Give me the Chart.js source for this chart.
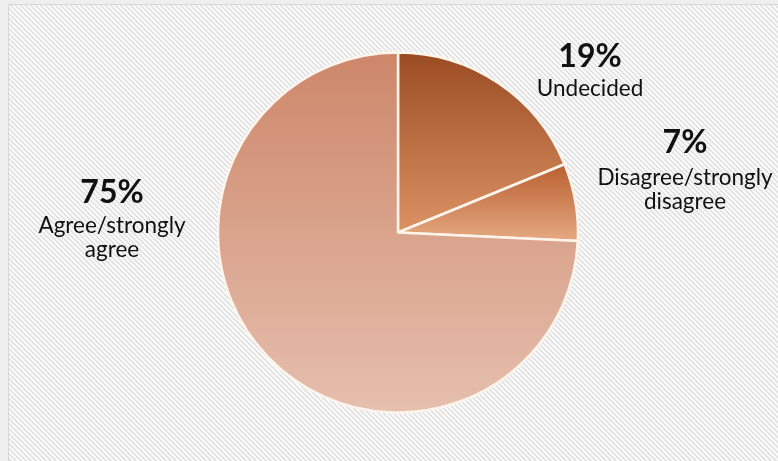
<!DOCTYPE html>
<html>
<head>
<meta charset="utf-8">
<script src="https://cdn.jsdelivr.net/npm/chart.js@4/dist/chart.umd.min.js"></script>
<style>
  html, body { margin: 0; padding: 0; background: #efefef; }
  #chart { display: block; }
</style>
</head>
<body>
<canvas id="chart" width="778" height="461"></canvas>
<script>
// Survey answers, clockwise from 12 o'clock
const categories = [
  ["Undecided"],
  ["Disagree/strongly", "disagree"],
  ["Agree/strongly", "agree"]
];
const shares = [19, 7, 75];

// Vertical gradient per slice: [top colour, bottom colour]
const sliceShades = [
  ["#9a4b22", "#dc9364"],
  ["#b95f31", "#e6a981"],
  ["#cd876a", "#e6bfae"]
];

// Label placement: centre x, baseline of the percentage, baselines of the text lines
const labelSpots = [
  { x: 590, pct: 67,  lines: [96] },
  { x: 685, pct: 153, lines: [185, 209] },
  { x: 112, pct: 203, lines: [233, 257] }
];

const FONT = "Lato, 'Open Sans', sans-serif";

// Grey card with fine diagonal hatching behind the pie
const hatchedPanel = {
  id: 'hatchedPanel',
  beforeDraw(chart) {
    const ctx = chart.ctx;
    const tile = document.createElement('canvas');
    tile.width = 5; tile.height = 5;
    const t = tile.getContext('2d');
    const shade = ['#dcdcdc', '#e8e8e8', '#f9f9f9', '#fbfbfb', '#f3f3f3'];
    for (let y = 0; y < 5; y++) {
      for (let x = 0; x < 5; x++) {
        t.fillStyle = shade[((x - y) % 5 + 5) % 5];
        t.fillRect(x, y, 1, 1);
      }
    }
    ctx.save();
    ctx.fillStyle = '#efefef';
    ctx.fillRect(0, 0, chart.width, chart.height);
    ctx.fillStyle = ctx.createPattern(tile, 'repeat');
    ctx.fillRect(8, 4, chart.width - 8, chart.height - 4);
    ctx.strokeStyle = '#d6d6d6';
    ctx.lineWidth = 1;
    ctx.beginPath();
    ctx.moveTo(8.5, chart.height);
    ctx.lineTo(8.5, 4.5);
    ctx.lineTo(chart.width, 4.5);
    ctx.stroke();
    ctx.restore();
  }
};

// Paints each arc with a top-to-bottom gradient spanning its own height
const sliceGradients = {
  id: 'sliceGradients',
  beforeDatasetsDraw(chart) {
    const ctx = chart.ctx;
    chart.getDatasetMeta(0).data.forEach((arc, i) => {
      const p = arc.getProps(['x', 'y', 'startAngle', 'endAngle', 'outerRadius']);
      const ys = [p.y, p.y + p.outerRadius * Math.sin(p.startAngle), p.y + p.outerRadius * Math.sin(p.endAngle)];
      for (let k = -2; k <= 6; k++) {
        const a = k * Math.PI / 2;
        if (a >= p.startAngle && a <= p.endAngle) ys.push(p.y + p.outerRadius * Math.sin(a));
      }
      const top = Math.min(...ys), bottom = Math.max(...ys);
      const g = ctx.createLinearGradient(0, top, 0, bottom);
      g.addColorStop(0, sliceShades[i][0]);
      g.addColorStop(1, sliceShades[i][1]);
      arc.options.backgroundColor = g;
    });
  }
};

// Percentage and category text beside each slice
const sliceLabels = {
  id: 'sliceLabels',
  afterDatasetsDraw(chart) {
    const ctx = chart.ctx;
    ctx.save();
    ctx.fillStyle = '#111111';
    ctx.textAlign = 'center';
    ctx.textBaseline = 'alphabetic';
    shares.forEach((v, i) => {
      const spot = labelSpots[i];
      ctx.font = `bold 32px ${FONT}`;
      ctx.fillText(v + '%', spot.x, spot.pct);
      ctx.font = `22.5px ${FONT}`;
      categories[i].forEach((line, j) => ctx.fillText(line, spot.x, spot.lines[j]));
    });
    ctx.restore();
  }
};

new Chart(document.getElementById('chart'), {
  type: 'pie',
  data: {
    labels: categories.map(c => c.join(' ')),
    datasets: [{
      data: shares,
      backgroundColor: sliceShades.map(s => s[1]),
      borderColor: '#fdf4ec',
      borderWidth: 2.5,
      radius: 180
    }]
  },
  options: {
    responsive: false,
    animation: false,
    layout: { padding: { top: 52, bottom: 48, left: 18, right: 0 } },
    plugins: {
      legend: { display: false },
      tooltip: { enabled: false }
    }
  },
  plugins: [hatchedPanel, sliceGradients, sliceLabels]
});
</script>
</body>
</html>
